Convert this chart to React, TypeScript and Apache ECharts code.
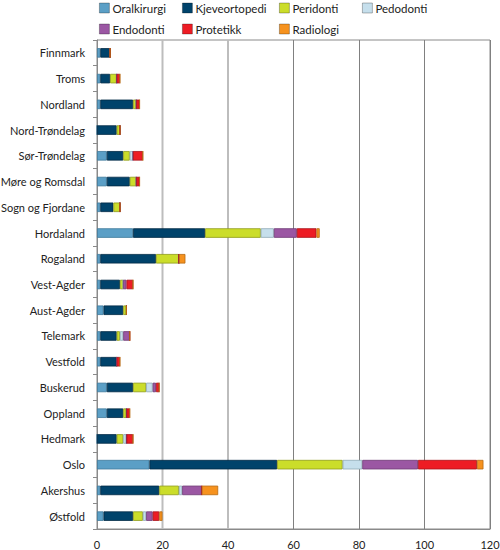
import React, { useEffect, useRef } from "react";
import * as echarts from "echarts";

const categories = [
  "Finnmark", "Troms", "Nordland", "Nord-Trøndelag", "Sør-Trøndelag", "Møre og Romsdal",
  "Sogn og Fjordane", "Hordaland", "Rogaland", "Vest-Agder", "Aust-Agder", "Telemark",
  "Vestfold", "Buskerud", "Oppland", "Hedmark", "Oslo", "Akershus", "Østfold",
];

const oralkirurgi = [1, 1, 1, 0, 3, 3, 1, 11, 1, 1, 2, 1, 1, 3, 3, 0, 16, 1, 2];
const kjeveortopedi = [3, 3, 10, 6, 5, 7, 4, 22, 17, 6, 6, 5, 5, 8, 5, 6, 39, 18, 9];
const peridonti = [0, 2, 1, 1, 2, 2, 2, 17, 7, 1, 1, 1, 0, 4, 1, 2, 20, 6, 3];
const pedodonti = [0, 0, 0, 0, 1, 0, 0, 4, 0, 0, 0, 1, 0, 2, 0, 1, 6, 1, 1];
const endodonti = [0, 0, 0, 0, 0, 0, 0, 7, 0, 1, 0, 2, 0, 1, 0, 0, 17, 6, 2];
const protetikk = [0, 1, 1, 0, 3, 1, 0, 6, 0, 2, 0, 0, 1, 1, 1, 2, 18, 0, 2];
const radiologi = [0, 0, 0, 0, 0, 0, 0, 1, 2, 0, 0, 0, 0, 0, 0, 0, 2, 5, 1];

const seriesDefs = [
  { name: "Oralkirurgi", data: oralkirurgi, color: "#5b9fc6", border: "#3f7a9c" },
  { name: "Kjeveortopedi", data: kjeveortopedi, color: "#00436b", border: "#002a45" },
  { name: "Peridonti", data: peridonti, color: "#cbdd2a", border: "#8f9c1a" },
  { name: "Pedodonti", data: pedodonti, color: "#c6dfec", border: "#8fa9b6" },
  { name: "Endodonti", data: endodonti, color: "#9b57a3", border: "#6e3a75" },
  { name: "Protetikk", data: protetikk, color: "#ed1c24", border: "#a8131a" },
  { name: "Radiologi", data: radiologi, color: "#f6921e", border: "#b86a12" },
];

const xTicks = [0, 20, 40, 60, 80, 100, 120];
const lightGridValues = [20, 40];

export default function App() {
  const ref = useRef<HTMLDivElement>(null);
  useEffect(() => {
    if (!ref.current) return;
    const chart = echarts.init(ref.current, null, { renderer: "svg" });
    const font = "Lato, 'Open Sans', sans-serif";
    const legendCol = (names: string[], left: number) => ({
      data: names,
      orient: "vertical" as const,
      left,
      top: 2,
      padding: 0,
      itemWidth: 10,
      itemHeight: 10,
      itemGap: 9,
      icon: "rect",
      itemStyle: { borderColor: "rgba(0,0,0,0.35)", borderWidth: 0.8 },
      textStyle: { fontFamily: font, fontSize: 11.5, color: "#222", lineHeight: 10, padding: [0, 0, 0, -2] },
      selectedMode: false,
    });
    chart.setOption({
      animation: false,
      textStyle: { fontFamily: font },
      legend: [
        legendCol(["Oralkirurgi", "Endodonti"], 99),
        legendCol(["Kjeveortopedi", "Protetikk"], 182),
        legendCol(["Peridonti", "Radiologi"], 279),
        legendCol(["Pedodonti"], 362),
      ],
      grid: {
        left: 97,
        right: 10,
        top: 40,
        bottom: 21,
        outerBoundsMode: "none",
        containLabel: false,
        show: true,
        borderColor: "#8a8a8a",
        borderWidth: 1,
      },
      xAxis: {
        type: "value",
        min: xTicks[0],
        max: xTicks[xTicks.length - 1],
        interval: 20,
        axisLine: { show: true, lineStyle: { color: "#8a8a8a" } },
        axisTick: { show: false },
        axisLabel: { color: "#222", fontSize: 11, fontFamily: font, margin: 10 },
        splitLine: {
          show: true,
          lineStyle: {
            color: ["transparent", "transparent", "transparent", "#808080", "#808080", "#808080", "#808080"],
            width: 1,
          },
        },
      },
      yAxis: {
        type: "category",
        data: categories,
        inverse: true,
        axisLine: { show: true, lineStyle: { color: "#8a8a8a" } },
        axisTick: { show: true, length: 4, lineStyle: { color: "#8a8a8a" } },
        axisLabel: { color: "#222", fontSize: 11, fontFamily: font, margin: 12 },
      },
      series: [
        {
          type: "custom",
          name: "grid-light",
          z: 1,
          silent: true,
          data: lightGridValues.map((v) => [v]),
          encode: { x: 0 },
          renderItem: (params: any, api: any) => {
            const x = api.coord([api.value(0), 0])[0];
            const cs = params.coordSys;
            return {
              type: "line",
              shape: { x1: x, y1: cs.y, x2: x, y2: cs.y + cs.height },
              style: { stroke: "#bdbdbd", lineWidth: 2 },
            };
          },
        },
        ...seriesDefs.map((s) => ({
          name: s.name,
          type: "bar",
          stack: "total",
          barWidth: 9.5,
          z: 2,
          data: s.data,
          itemStyle: { color: s.color, borderColor: s.border, borderWidth: 0.8 },
          emphasis: { disabled: true },
        })),
      ],
    });
    return () => chart.dispose();
  }, []);
  return (
    <div
      ref={ref}
      style={{ position: "fixed", left: 0, top: 0, width: 500, height: 550, background: "#fff" }}
    />
  );
}
